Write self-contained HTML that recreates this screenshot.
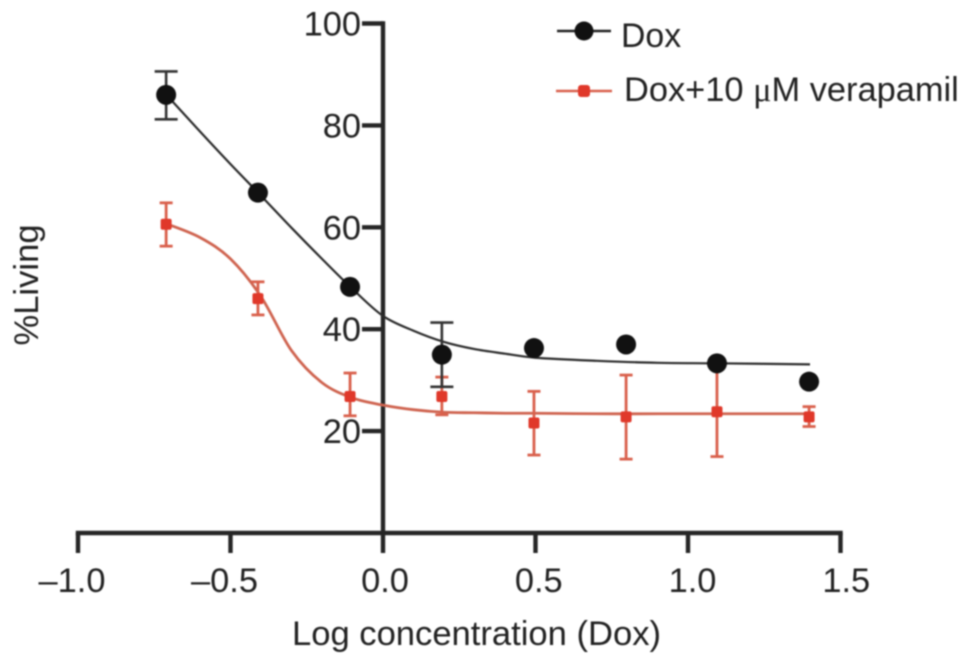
<!DOCTYPE html>
<html lang="en">
<head>
<meta charset="utf-8">
<title>%Living vs Log concentration (Dox)</title>
<style>
  html, body { margin: 0; padding: 0; background: #fff; }
  #chart { display: block; width: 969px; height: 666px; filter: blur(0.7px); }
  text { font-family: "Liberation Sans", sans-serif; fill: #222; }
</style>
</head>
<body>
<svg id="chart" xmlns="http://www.w3.org/2000/svg" width="969" height="666" viewBox="0 0 969 666">
  <g id="axes"></g>
  <g id="series-red"></g>
  <g id="series-black"></g>
  <text x="476.5" y="645" font-size="34.6" text-anchor="middle">Log concentration (Dox)</text>
  <text transform="translate(38,285) rotate(-90)" font-size="34.6" text-anchor="middle">%Living</text>
  <g>
    <g>
      <line x1="557" y1="31" x2="611" y2="31" stroke="#222" stroke-width="2.4"></line>
      <circle cx="584" cy="31" r="9.5" fill="#111"></circle>
      <text x="621" y="47" font-size="33.8">Dox</text>
    </g>
    <g>
      <line x1="556" y1="91" x2="612" y2="91" stroke="#d9604c" stroke-width="2.4"></line>
      <rect x="578" y="85" width="12" height="12" rx="3" fill="#e0382a"></rect>
      <text x="624" y="101" font-size="34.4">Dox+10 <tspan font-family="Liberation Serif, serif">μ</tspan>M verapamil</text>
    </g>
  </g>
</svg>
<script>
const xTicks = [-1.0, -0.5, 0.0, 0.5, 1.0, 1.5];
const xTickLabels = ["–1.0", "–0.5", "0.0", "0.5", "1.0", "1.5"];
const yTicks = [20, 40, 60, 80, 100];
const yTickLabels = ["20", "40", "60", "80", "100"];

const doses = [-0.711, -0.41, -0.108, 0.193, 0.495, 0.797, 1.095, 1.397];
const doxValues = [86.0, 66.8, 48.3, 35.0, 36.3, 37.0, 33.3, 29.7];
const doxErrTop = [90.6, null, null, 41.3, null, null, null, null];
const doxErrBottom = [81.2, null, null, 28.7, null, null, null, null];
const verapamilValues = [60.6, 46.0, 26.8, 26.8, 21.6, 22.8, 23.8, 22.8];
const verapamilErrTop = [64.8, 49.3, 31.4, 30.6, 27.8, 31.0, 32.5, 24.8];
const verapamilErrBottom = [56.3, 42.8, 23.0, 23.2, 15.3, 14.5, 15.0, 20.9];

const fitDoses = [-0.71, -0.6, -0.5, -0.4, -0.3, -0.2, -0.1, 0, 0.1, 0.2, 0.3, 0.4, 0.5, 0.7, 0.9, 1.1, 1.4];
const doxFit = [86.0, 78.8, 72.4, 66.2, 59.9, 53.8, 47.9, 42.6, 39.7, 37.5, 36.1, 35.2, 34.4, 33.8, 33.4, 33.3, 33.1];
const verapamilFit = [60.7, 58.0, 53.8, 46.4, 35.8, 29.5, 26.5, 25.1, 24.2, 23.7, 23.6, 23.5, 23.5, 23.4, 23.4, 23.4, 23.4];

const NS = "http://www.w3.org/2000/svg";
function xScale(v) { return 383 + 305 * v; }
function yScale(v) { return 533 - 5.095 * v; }

function make(parent, tag) {
  const el = document.createElementNS(NS, tag);
  parent.appendChild(el);
  return el;
}
function setLine(el, x1, y1, x2, y2, color, width) {
  el.setAttribute("x1", x1);
  el.setAttribute("y1", y1);
  el.setAttribute("x2", x2);
  el.setAttribute("y2", y2);
  el.setAttribute("stroke", color);
  el.setAttribute("stroke-width", width);
}
function smoothPath(xs, ys) {
  const pts = xs.map(function (x, i) { return [xScale(x), yScale(ys[i])]; });
  let d = "M" + pts[0][0] + " " + pts[0][1];
  for (let i = 0; i < pts.length - 1; i++) {
    const p0 = pts[Math.max(0, i - 1)];
    const p1 = pts[i];
    const p2 = pts[i + 1];
    const p3 = pts[Math.min(pts.length - 1, i + 2)];
    d += " C" + (p1[0] + (p2[0] - p0[0]) / 6) + " " + (p1[1] + (p2[1] - p0[1]) / 6) +
         " " + (p2[0] - (p3[0] - p1[0]) / 6) + " " + (p2[1] - (p3[1] - p1[1]) / 6) +
         " " + p2[0] + " " + p2[1];
  }
  return d;
}

const AXIS = "#262626";
const axes = document.getElementById("axes");

const xAxisLine = make(axes, "line");


setLine(xAxisLine, xScale(xTicks[0]) - 2.2, yScale(0), xScale(xTicks[xTicks.length - 1]) + 2.2, yScale(0), AXIS, 4.4);

const yAxisLine = make(axes, "line");


setLine(yAxisLine, xScale(0), yScale(100) - 2.2, xScale(0), yScale(0), AXIS, 4.4);

xTicks.forEach(function (t, i) {
  const tick = make(axes, "line");
  
  
  setLine(tick, xScale(t), yScale(0), xScale(t), 553, AXIS, 4.4);
  const label = make(axes, "text");
  
  
  label.setAttribute("x", xScale(t) + (t < 0 ? -6 : 2 + t * 2.5));
  label.setAttribute("y", 592);
  label.setAttribute("font-size", "34.4");
  label.setAttribute("text-anchor", "middle");
  label.textContent = xTickLabels[i];
});

yTicks.forEach(function (t, i) {
  const tick = make(axes, "line");
  
  
  setLine(tick, 362, yScale(t), xScale(0), yScale(t), AXIS, 4.4);
  const label = make(axes, "text");
  
  
  label.setAttribute("x", 361);
  label.setAttribute("y", yScale(t) + 12);
  label.setAttribute("font-size", "34.4");
  label.setAttribute("text-anchor", "end");
  label.textContent = yTickLabels[i];
});

function drawSeries(group, values, errTop, errBottom, fit, lineColor, barColor, barWidth, capHalf, isCircle, curveWidth) {
  const curve = make(group, "path");
  
  
  curve.setAttribute("d", smoothPath(fitDoses, fit));
  curve.setAttribute("fill", "none");
  curve.setAttribute("stroke", lineColor);
  curve.setAttribute("stroke-width", curveWidth);

  doses.forEach(function (d, i) {
    const x = xScale(d);
    if (errTop[i] !== null) {
      const bar = make(group, "line");
      
      
      setLine(bar, x, yScale(errTop[i]), x, yScale(errBottom[i]), barColor, barWidth);
      const capTop = make(group, "line");
      
      
      setLine(capTop, x - capHalf, yScale(errTop[i]), x + capHalf, yScale(errTop[i]), barColor, barWidth);
      const capBottom = make(group, "line");
      
      
      setLine(capBottom, x - capHalf, yScale(errBottom[i]), x + capHalf, yScale(errBottom[i]), barColor, barWidth);
    }
  });

  doses.forEach(function (d, i) {
    const x = xScale(d);
    const y = yScale(values[i]);
    if (isCircle) {
      const dot = make(group, "circle");
      
      
      dot.setAttribute("cx", x);
      dot.setAttribute("cy", y);
      dot.setAttribute("r", "10");
      dot.setAttribute("fill", "#111");
    } else {
      const square = make(group, "rect");
      
      
      square.setAttribute("x", x - 5.5);
      square.setAttribute("y", y - 5.5);
      square.setAttribute("width", "11");
      square.setAttribute("height", "11");
      square.setAttribute("rx", "2");
      square.setAttribute("fill", "#e0382a");
    }
  });
}

drawSeries(document.getElementById("series-red"), verapamilValues, verapamilErrTop, verapamilErrBottom, verapamilFit, "#cf6450", "#d9604c", 2.8, 6.5, false, 2.8);
drawSeries(document.getElementById("series-black"), doxValues, doxErrTop, doxErrBottom, doxFit, "#2c2c2c", "#333", 2.6, 11.5, true, 2.2);
</script>
</body>
</html>
